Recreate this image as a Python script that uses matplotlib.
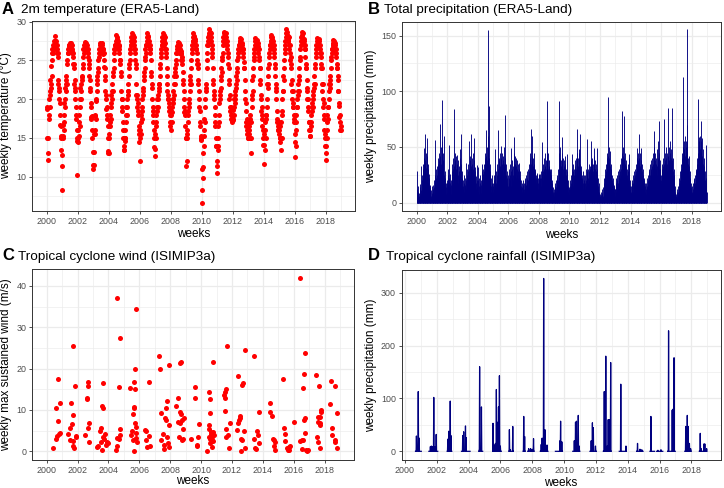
"""Four-panel climate overview: ERA5-Land temperature / precipitation and
ISIMIP3a tropical-cyclone wind / rainfall, weekly values 2000-2018.

Output: out.png (724 x 488 px)
"""
import numpy as np
import matplotlib
matplotlib.use("Agg")
import matplotlib.pyplot as plt
from matplotlib.ticker import MultipleLocator, FormatStrFormatter

# ---- style ----
plt.rcParams.update({
    "font.family": "sans-serif",
    "font.sans-serif": ["Liberation Sans", "DejaVu Sans"],
    "font.size": 8,
    "axes.linewidth": 0.7,
})

C_RED = "#FF0000"
C_NAVY = "#000080"
C_GRID = "#EBEBEB"
C_DARK = "#333333"
C_TICK = "#4D4D4D"

# ---- data: weekly 2m temperature (degC), 52 weeks per year ----
YEARS = list(range(2000, 2019))
temp_2000 = [19, 18.7, 15, 13, 12.2, 15, 17.5, 18, 20, 19, 21, 20.5, 22.5, 22, 21.5, 24.3, 23, 25, 26, 26.5, 26, 27,
             26.5, 27, 27.5, 26.5, 27.5, 28.2, 27, 27.5, 27, 26.5, 27.5, 26, 27, 26.5, 26, 25.5, 22, 22.5, 21.5, 21,
             20, 19.5, 18, 16.7, 16.5, 15.3, 15, 13.5, 11.4, 8.3]
temp_2001 = [12.8, 15, 15.3, 16.7, 17, 18, 16, 19.5, 19, 20, 21.5, 22, 21, 22.5, 23, 22, 24.5, 25, 26, 26.5, 26, 27,
             26.8, 27, 26.5, 27.3, 27, 26.5, 27.2, 26.8, 27, 26.5, 26, 27, 26.2, 25.5, 26, 24.5, 24, 24.5, 22, 21.5,
             22.5, 21, 20, 19, 18, 17.5, 16, 15, 14.6, 10.2]
temp_2002 = [15, 16, 14.5, 15.2, 18, 17, 16.5, 19, 20, 21.5, 21, 22, 20, 22.5, 23, 22.8, 24.5, 24, 25.5, 26.5, 26, 27,
             26.5, 27.4, 26.8, 27, 26.5, 27.2, 26.8, 27, 26.5, 27, 26.3, 25.5, 26.5, 26, 25, 24.5, 24, 23, 22.5, 21,
             21.5, 19, 19.5, 17.7, 17.5, 17.8, 16, 15, 13.2, 11.5]
temp_2003 = [11, 11.5, 13.2, 15.5, 16, 15.5, 17.8, 18, 17.5, 19.8, 20, 21, 22, 22.5, 23, 24, 23.5, 25, 25.5, 26, 26.5,
             26, 27, 26.5, 27.3, 26.8, 27, 26.3, 27.2, 26.5, 27, 26.5, 26, 25.8, 26.5, 26, 25, 24.2, 24, 23, 22.5, 21,
             20, 20.5, 18.7, 19, 17.5, 18, 16.5, 15, 13.3, 13]
temp_2004 = [13, 15, 15.5, 16.5, 17, 18, 17.5, 19, 19.5, 20.5, 20, 21, 22, 21, 23, 23.5, 24, 25, 26, 26.5, 27, 26.5,
             27, 27.5, 28.3, 27, 27.8, 27, 28, 27.5, 27, 26.5, 27.5, 26.8, 27, 26.5, 26, 25, 24.5, 25, 23.5, 23, 21,
             20, 19, 18.5, 20, 17, 16, 15, 14, 13.5]
temp_2005 = [13.4, 15, 14.6, 16, 15, 17, 18, 19, 18, 19, 20, 20.5, 21, 21, 22, 23, 24, 24.5, 25, 26, 26.5, 27, 27,
             27.5, 28, 28.6, 28, 27.5, 28.3, 27.8, 27.5, 28, 27, 26.5, 27.5, 26.5, 26, 25, 24, 24.5, 22, 20.5, 20, 19,
             20.5, 19.5, 18.5, 18, 16, 15.5, 14.5, 16.5]
temp_2006 = [12, 15, 16, 15.5, 17, 18, 17.5, 18.5, 19, 20, 21, 20.5, 21.5, 23, 22.5, 23.5, 24, 25, 25.5, 26.5, 26, 27,
             27, 27.5, 28, 28.5, 27.5, 28, 27.5, 28.2, 27, 27.5, 26.8, 27, 26.5, 26, 26.5, 25, 23, 23.5, 21.5, 22, 20,
             19, 18, 18.5, 17, 16, 15, 13.8, 13.6, 12.7]
temp_2007 = [15.5, 16.5, 15, 18, 17, 19, 18.5, 20, 19, 20, 20.5, 21, 22, 21.5, 22, 23, 24, 24.5, 25.5, 26, 26.5, 27,
             27, 27.5, 28, 28.6, 28, 27.5, 28.3, 27.8, 27, 27.5, 28, 27.2, 26.5, 26, 26.5, 25.5, 24, 23, 22, 21, 20.5,
             20, 20, 19.5, 19, 18.5, 18.5, 18, 17, 16.5]
temp_2008 = [16, 18, 18.5, 17, 19, 18.3, 19.5, 20, 20, 21, 20.5, 22, 23, 22, 23.5, 24, 23, 24.5, 25, 26, 26.5, 26,
             26.8, 27, 27.4, 26.5, 27, 26.8, 27.2, 26.5, 26, 27, 26.5, 25.8, 26.2, 26, 25, 25.5, 24.5, 25, 23.5, 22.5,
             22, 21, 20, 19, 18.3, 18.5, 18, 16.5, 15, 15]
temp_2009 = [11.4, 12, 15, 16, 15.5, 17, 18.5, 18, 19, 19.5, 20, 22, 21, 22.5, 23, 22, 24, 25, 26, 26.5, 27, 27.5,
             27.5, 28, 28.5, 28, 27.5, 28.2, 27.8, 27, 27.5, 27, 26.5, 27, 26.5, 26, 25, 24.5, 24, 24.5, 22.5, 22, 21,
             20, 19, 18.5, 17, 16.5, 15, 14.8, 14.7, 15.2]
temp_2010 = [11, 6.6, 8.3, 9.8, 11.3, 13, 15.2, 14, 16, 17.5, 17, 19, 20, 21, 22, 21.5, 24, 25, 26, 27, 27.5, 27, 28,
             28.5, 29, 28.3, 28, 28.7, 27.5, 28, 28.5, 28, 27.5, 27, 26.5, 26, 25.5, 24, 22, 22.5, 21, 20.5, 20, 19,
             18, 17, 16.5, 15, 14, 13.9, 11.4, 10.5]
temp_2011 = [12, 13.5, 15, 14, 16.5, 18, 17, 19.5, 20, 21, 20.5, 21.5, 23, 22.5, 24, 23.5, 25, 25.5, 26, 27, 27.5, 28,
             28.5, 28.7, 28, 27.5, 28.2, 27.8, 28.5, 27.5, 27, 28, 27.5, 26.5, 27, 26, 25.5, 24.5, 24, 22, 22.5, 20,
             20.5, 19, 18.5, 19, 18, 17.5, 18, 17.5, 17.3, 17]
temp_2012 = [17.5, 18.6, 17.3, 19, 20, 18, 19.5, 20.5, 21, 20, 22, 21.5, 23, 23.5, 24, 22.5, 25, 25.5, 26, 26.5, 26.2,
             27, 27, 27.5, 27.9, 27.2, 27.5, 27, 27.8, 26.8, 27, 26.5, 27.3, 26.5, 26, 26.5, 25.5, 24.8, 24, 24, 22.5,
             21, 20, 19.5, 18.5, 17, 16.5, 17.5, 16, 15.5, 16.5, 15]
temp_2013 = [15, 16, 17, 15.5, 16.5, 15, 17.5, 18, 13, 15, 17, 19, 20, 20.5, 22.5, 21, 23, 24, 25, 25.5, 26.5, 26, 27,
             27.5, 27.9, 27, 27.5, 26.8, 27.2, 27.6, 27, 26.5, 27.3, 26.8, 26, 26.5, 25.5, 25, 24, 24, 22, 22.5, 20,
             20.5, 18.5, 19, 17.5, 18, 16.5, 15, 16, 14.1]
temp_2014 = [11.7, 14.1, 15.5, 13.5, 17, 16, 15, 18, 18, 17.5, 20, 19, 22, 21.5, 22, 24, 23, 24.5, 25.5, 26, 26.5, 27,
             27, 27.5, 28, 28.3, 27.5, 28, 27.8, 27, 27.5, 27, 26.5, 27, 26.5, 26, 25.5, 24, 24.5, 23, 22, 21, 21.5,
             20, 18.5, 17, 17.5, 16, 16, 16.5, 17, 15.5]
temp_2015 = [16, 15, 14.5, 16.5, 15, 17, 15, 13.4, 15, 18, 18.5, 20, 21, 21, 23, 22.5, 24, 25, 26, 26.5, 27, 27.5, 28,
             28.5, 29, 28.3, 28, 28.7, 27.5, 28.2, 27.8, 27.5, 28, 27, 26.5, 27, 26, 25, 25.5, 24, 24.5, 22, 22.5, 21,
             20, 21, 19, 19.5, 19, 17.5, 18, 17]
temp_2016 = [12.5, 14.5, 15.5, 14, 17, 16, 18, 19, 19, 20, 21, 20.5, 22, 21, 23, 22.5, 24, 25, 25.5, 26.5, 27, 27.5,
             28, 28.7, 28, 27.5, 28.3, 27.8, 28.5, 27.5, 27.5, 27, 27.8, 26.5, 27, 26.5, 25.5, 24.5, 24, 24, 22.5, 21,
             21.5, 20, 20, 19, 18.5, 17, 17, 16, 15.2, 16]
temp_2017 = [15.2, 17, 16.5, 18, 17, 19, 18.5, 19.5, 19, 20, 21, 20.5, 22, 21.5, 23, 22, 24, 24.5, 25.5, 26, 26.5, 27,
             27, 27.5, 27.9, 27, 27.5, 27.2, 27.8, 26.8, 27, 27.5, 26.5, 27, 26, 26, 25.5, 24.5, 24, 24, 22, 21, 22,
             20, 19, 18, 19.5, 17.5, 16, 15, 15.5, 14]
temp_2018 = [12.2, 14, 13, 15, 17, 16, 18, 19, 17.5, 19, 21, 20, 22, 21.5, 22.5, 23, 22, 24, 25, 25.5, 26.5, 26, 26.5,
             27, 27.6, 27, 27.3, 26.8, 27.5, 26.5, 27, 26.5, 27.2, 26, 26.5, 26, 25.5, 24.5, 24, 24, 23, 21, 22.5, 21,
             19.1, 19.5, 17.7, 18, 16, 17, 16.5, 16]

# ---- data: weekly total precipitation (mm), 52 weeks per year ----
prec_2000 = [5, 12, 28, 8, 3, 10, 15, 6, 4, 9, 14, 7, 5, 17, 11, 8, 33, 20, 12, 25, 18, 30, 22, 35, 49, 28, 40, 33,
             61.5, 25, 38, 45, 20, 31, 27, 42, 58, 24, 35, 30, 18, 26, 15, 22, 10, 14, 8, 16, 6, 11, 4, 9]
prec_2001 = [7, 15, 10, 16, 5, 12, 8, 20, 14, 25, 56, 18, 10, 22, 15, 30, 12, 20, 33, 25, 40, 28, 35, 22, 45, 38, 71,
             30, 42, 26, 50, 35, 28, 40, 55, 92, 33, 45, 30, 38, 25, 60, 20, 28, 15, 22, 12, 18, 8, 14, 10, 20]
prec_2002 = [18, 25, 12, 30, 20, 15, 51.5, 22, 10, 18, 14, 26, 8, 20, 16, 12, 28, 22, 35, 18, 30, 40, 25, 84, 33, 28,
             45, 38, 22, 30, 42, 26, 35, 20, 43, 30, 25, 38, 18, 28, 33, 22, 40, 30, 48, 25, 62, 35, 20, 28, 15, 22]
prec_2003 = [12, 20, 8, 15, 25, 10, 18, 14, 22, 9, 16, 36, 20, 12, 25, 15, 30, 18, 28, 22, 35, 26, 55, 30, 20, 38, 25,
             42, 30, 33, 62, 28, 40, 35, 22, 45, 30, 26, 38, 58, 25, 32, 20, 28, 15, 24, 12, 18, 10, 20, 34, 14]
prec_2004 = [20, 32, 10, 15, 22, 8, 18, 12, 25, 14, 20, 9, 16, 28, 12, 22, 35, 18, 26, 30, 20, 35, 28, 40, 25, 38, 45,
             65, 30, 42, 35, 50, 28, 38, 60, 155, 45, 33, 87, 40, 28, 35, 20, 25, 15, 22, 10, 18, 12, 25, 8, 15]
prec_2005 = [10, 18, 25, 12, 20, 30, 15, 48, 22, 14, 28, 18, 25, 12, 35, 20, 30, 65, 28, 40, 22, 38, 30, 25, 45, 33,
             51, 28, 40, 35, 22, 45, 30, 38, 25, 42, 33, 28, 50, 35, 40, 79, 30, 25, 35, 20, 28, 15, 22, 18, 12, 25]
prec_2006 = [15, 22, 30, 18, 25, 12, 35, 20, 49, 28, 15, 22, 30, 18, 38, 25, 20, 33, 45, 59, 30, 26, 42, 35, 28, 40,
             22, 33, 30, 25, 38, 20, 28, 35, 22, 30, 36, 18, 25, 15, 22, 28, 12, 20, 15, 10, 18, 8, 14, 20, 12, 16]
prec_2007 = [10, 18, 12, 22, 8, 15, 20, 12, 25, 16, 10, 28, 18, 22, 14, 30, 20, 25, 35, 28, 40, 22, 30, 45, 66, 35, 28,
             38, 42, 25, 60, 33, 28, 40, 30, 45, 25, 35, 28, 20, 30, 25, 18, 22, 27, 15, 20, 25, 12, 18, 22, 26]
prec_2008 = [25, 18, 22, 12, 26, 20, 15, 28, 22, 30, 18, 25, 54, 20, 28, 35, 22, 30, 40, 25, 33, 28, 45, 30, 38, 25,
             42, 50, 35, 91, 30, 45, 28, 38, 30, 25, 33, 30, 22, 28, 30, 20, 25, 15, 20, 12, 18, 8, 14, 10, 6, 12]
prec_2009 = [10, 15, 8, 12, 18, 14, 20, 10, 16, 22, 12, 25, 18, 30, 20, 28, 45, 91, 35, 40, 28, 50, 33, 38, 30, 45,
             59, 35, 28, 40, 30, 25, 38, 33, 22, 30, 42, 28, 35, 25, 20, 30, 44, 22, 28, 18, 15, 20, 10, 14, 8, 12]
prec_2010 = [8, 15, 20, 12, 25, 18, 14, 22, 30, 44, 20, 15, 28, 35, 22, 18, 30, 25, 38, 28, 33, 40, 25, 30, 45, 35,
             66, 28, 40, 33, 30, 48, 25, 38, 45, 62, 30, 35, 22, 28, 33, 20, 25, 15, 22, 18, 28, 12, 20, 15, 25, 18]
prec_2011 = [18, 25, 12, 30, 20, 15, 28, 22, 57, 25, 18, 30, 22, 35, 15, 28, 20, 33, 25, 30, 38, 55, 28, 35, 22, 40,
             30, 25, 35, 28, 42, 49, 30, 25, 38, 22, 30, 28, 20, 35, 25, 49, 30, 18, 22, 15, 12, 18, 8, 10, 5, 8]
prec_2012 = [6, 4, 10, 7, 3, 8, 5, 12, 9, 6, 5, 14, 10, 18, 12, 22, 15, 25, 30, 20, 35, 28, 40, 33, 45, 38, 95, 42,
             30, 50, 35, 28, 40, 33, 25, 46, 30, 22, 35, 28, 20, 25, 15, 22, 18, 12, 16, 10, 14, 8, 12, 6]
prec_2013 = [12, 18, 22, 10, 15, 20, 25, 14, 18, 28, 12, 20, 25, 30, 18, 22, 35, 28, 40, 30, 25, 45, 38, 82, 35, 30,
             42, 50, 78, 33, 40, 28, 35, 45, 30, 25, 38, 28, 33, 22, 30, 25, 35, 20, 28, 44, 22, 18, 40, 15, 20, 12]
prec_2014 = [10, 15, 8, 18, 12, 20, 15, 25, 10, 18, 22, 14, 28, 20, 16, 25, 30, 22, 35, 28, 40, 33, 25, 49, 30, 38,
             45, 62, 35, 28, 40, 33, 30, 45, 25, 38, 49, 30, 28, 35, 22, 30, 25, 18, 22, 15, 20, 12, 18, 10, 15, 8]
prec_2015 = [12, 18, 10, 15, 22, 14, 20, 25, 16, 30, 18, 22, 28, 35, 20, 25, 30, 22, 38, 28, 33, 40, 25, 45, 30, 35,
             28, 42, 50, 64, 30, 38, 45, 28, 35, 40, 30, 25, 48, 33, 40, 55, 35, 73, 30, 45, 25, 38, 20, 30, 18, 25]
prec_2016 = [20, 28, 35, 22, 30, 25, 40, 33, 75, 28, 35, 22, 45, 30, 38, 25, 50, 33, 40, 28, 45, 35, 85, 30, 42, 38,
             50, 28, 35, 45, 30, 55, 40, 33, 48, 30, 38, 85, 35, 28, 40, 22, 30, 18, 25, 12, 15, 8, 10, 5, 8, 4]
prec_2017 = [6, 10, 4, 12, 8, 15, 10, 18, 12, 22, 15, 20, 28, 18, 25, 30, 22, 35, 40, 28, 45, 50, 113, 38, 45, 55,
             40, 48, 35, 60, 42, 50, 38, 45, 55, 70, 156, 50, 40, 35, 30, 42, 25, 33, 20, 28, 15, 22, 12, 18, 8, 14]
prec_2018 = [10, 15, 8, 12, 18, 10, 20, 14, 22, 12, 25, 18, 15, 28, 20, 30, 22, 35, 40, 28, 45, 93, 38, 50, 59, 42,
             55, 35, 48, 60, 40, 55, 73, 45, 58, 38, 42, 30, 48, 35, 28, 40, 25, 33, 20, 28, 15, 22, 12, 18, 52, 10]

# ---- data: weekly max sustained TC wind (m/s) at decimal-year week dates ----
tc_wind_date = [
    2000.41, 2000.60, 2000.62, 2000.68, 2000.71, 2000.71, 2000.80, 2000.84, 2000.86,
    2001.41, 2001.50, 2001.52, 2001.55, 2001.62, 2001.68, 2001.69, 2001.72, 2001.73, 2001.76, 2001.84, 2001.88,
    2001.93,
    2002.48, 2002.59, 2002.64, 2002.68, 2002.70, 2002.70, 2002.72, 2002.76,
    2003.23, 2003.30, 2003.45, 2003.49, 2003.51, 2003.56, 2003.62, 2003.66, 2003.60, 2003.66, 2003.73, 2003.77,
    2003.84, 2003.88, 2003.94,
    2004.52, 2004.56, 2004.58, 2004.58, 2004.69, 2004.73, 2004.69, 2004.73, 2004.78,
    2005.42, 2005.48, 2005.55, 2005.59, 2005.59, 2005.63, 2005.65, 2005.70, 2005.68, 2005.68, 2005.74, 2005.76,
    2005.74, 2005.76, 2005.80, 2005.85, 2005.80,
    2006.34, 2006.45, 2006.45, 2006.51, 2006.62, 2006.60, 2006.66,
    2007.30, 2007.37, 2007.41, 2007.41, 2007.52, 2007.58, 2007.62, 2007.69, 2007.73, 2007.73, 2007.80, 2007.80,
    2007.84, 2007.90, 2007.95, 2007.95,
    2008.38, 2008.48, 2008.53, 2008.59, 2008.62, 2008.65, 2008.70, 2008.65, 2008.70, 2008.74, 2008.76, 2008.80,
    2008.84, 2008.86,
    2009.34, 2009.62, 2009.62, 2009.72, 2009.72, 2009.78, 2009.88,
    2010.37, 2010.48, 2010.48, 2010.52, 2010.56, 2010.56, 2010.52, 2010.56, 2010.58, 2010.62, 2010.66, 2010.68,
    2010.72, 2010.74, 2010.72, 2010.79, 2010.79, 2010.84,
    2011.48, 2011.53, 2011.55, 2011.55, 2011.59, 2011.59, 2011.64, 2011.70, 2011.74, 2011.80, 2011.84,
    2012.34, 2012.39, 2012.41, 2012.45, 2012.49, 2012.51, 2012.58, 2012.61, 2012.62, 2012.67, 2012.73, 2012.77,
    2012.81, 2012.84,
    2013.41, 2013.45, 2013.52, 2013.56, 2013.62, 2013.67, 2013.74, 2013.77,
    2014.45, 2014.49, 2014.59, 2014.64, 2014.70, 2014.70, 2014.76, 2014.80,
    2015.30, 2015.34, 2015.40, 2015.45, 2015.55, 2015.62, 2015.66, 2015.70, 2015.77, 2016.00,
    2016.41, 2016.41, 2016.52, 2016.56, 2016.63, 2016.63, 2016.68, 2016.73, 2016.68, 2016.73, 2016.73, 2016.78,
    2016.84, 2016.90,
    2017.44, 2017.63, 2017.56, 2017.60, 2017.67, 2017.70, 2017.52, 2017.60, 2017.67, 2017.74, 2017.74, 2017.70,
    2018.34, 2018.40, 2018.49, 2018.49, 2018.66, 2018.70, 2018.70, 2018.77, 2018.77,
]
tc_wind_ms = [
    0.7, 10.5, 2.9, 3.7, 7.3, 17.4, 4.2, 11.8, 4.5,
    4.3, 2.7, 5.6, 11.6, 6.6, 8.8, 25.5, 2.5, 1.4, 0.7, 15.9, 3.5,
    3.8,
    3.9, 12.8, 12.6, 5.7, 15.8, 16.8, 6.8, 2.3,
    1.0, 1.4, 4.8, 5.6, 2.3, 11.0, 10.4, 16.6, 0.3, 3.5, 2.9, 4.1,
    1.5, 2.3, 1.9,
    0.3, 3.3, 1.3, 37.2, 15.6, 27.5, 2.9, 5.3, 3.9,
    15.4, 3.9, 4.9, 9.0, 2.7, 0.0, 16.7, 15.1, 10.8, 10.4, 19.8, 34.5,
    6.8, 4.5, 3.3, 2.3, 5.8,
    5.2, 5.0, 2.7, 1.1, 16.7, 3.8, 1.4,
    23.0, 19.9, 9.2, 2.7, 4.2, 1.5, 0.6, 8.1, 10.4, 7.6, 12.2, 3.5,
    2.1, 1.1, 20.8, 6.4,
    11.0, 7.2, 13.0, 3.5, 6.8, 21.4, 21.7, 9.6, 9.0, 7.6, 2.7, 5.3,
    3.0, 8.0,
    3.1, 15.6, 12.8, 1.5, 1.2, 3.5, 6.5,
    0.1, 6.4, 5.3, 14.3, 12.7, 9.3, 3.5, 2.9, 1.9, 4.3, 4.7, 2.7,
    1.1, 21.7, 3.5, 4.7, 2.5, 3.9,
    13.6, 13.0, 14.4, 9.7, 15.0, 5.3, 3.5, 25.4, 3.9, 0.7, 6.9,
    5.2, 18.2, 6.9, 7.6, 8.5, 8.0, 3.1, 0.0, 2.7, 16.0, 16.6, 4.8,
    24.5, 0.7,
    23.1, 3.1, 0.7, 0.5, 4.8, 3.9, 9.4, 2.1,
    11.8, 9.6, 8.6, 2.9, 2.7, 1.3, 0.2, 2.3,
    17.4, 5.6, 4.2, 2.6, 0.7, 0.2, 1.1, 0.3, 1.3, 7.2,
    42.0, 2.6, 2.7, 0.5, 2.7, 15.4, 18.6, 23.9, 7.6, 8.0, 4.5, 0.2,
    0.0, 0.2,
    18.4, 15.9, 8.3, 7.1, 6.8, 6.3, 3.4, 2.3, 0.7, 10.0, 9.6, 8.2,
    11.4, 17.1, 5.7, 3.9, 15.8, 2.7, 2.3, 9.2, 0.9,
]

# ---- data: weekly TC rainfall (mm), one run of consecutive weeks per season ----
tc_rain_start = [2000.67, 2001.51, 2002.66, 2003.56, 2004.64, 2005.52, 2006.53, 2007.43, 2007.72, 2008.51,
                 2009.46, 2009.67, 2010.55, 2011.63, 2012.47, 2013.47, 2014.56, 2015.40, 2015.82, 2016.51,
                 2017.59, 2018.50]
tc_rain_mm = [
    [0, 0, 0, 29, 0, 0, 0, 0, 3, 113, 0, 0, 25, 0, 0, 0, 0, 0, 0, 0],
    [0, 0, 0, 0, 2, 9, 0, 0, 10, 0, 0, 0, 0, 9, 0, 0, 102, 0, 0, 9, 0, 0, 0, 0, 32, 0, 0, 0, 0, 0],
    [0, 0, 23, 0, 0, 38, 0, 0, 0, 0, 95, 0, 30, 0, 0, 0],
    [0, 0, 0, 0, 30, 0, 0, 37, 0, 0, 0, 0, 0, 48, 0, 26, 0, 0, 0, 0, 0, 0, 0, 0, 0, 0, 0, 0, 0],
    [0, 0, 5, 160, 0, 0, 0, 0, 0, 84, 0, 0, 0, 0],
    [0, 53, 0, 0, 0, 8, 12, 0, 0, 15, 0, 0, 117, 0, 0, 0, 55, 0, 0, 84, 0, 0, 143, 0, 0, 10, 0, 0, 0],
    [0, 0, 41, 0, 0, 3, 0, 0, 0, 0, 0, 0, 0, 47, 0, 0],
    [0, 0, 66, 0, 0, 28, 0, 0],
    [0, 0, 0, 5, 0, 0, 0, 0, 0, 5, 0, 0, 0, 0, 4, 0, 0, 0, 0, 24, 0, 0],
    [0, 0, 0, 13, 0, 0, 25, 0, 0, 0, 0, 327, 0, 0, 0, 41, 0, 0, 0, 0, 0, 0, 12, 0, 0, 0],
    [0, 0, 0, 0, 0, 0, 0, 0],
    [0, 0, 0, 0, 20, 0, 57, 0, 0, 0, 18, 0, 0],
    [0, 0, 0, 0, 0, 20, 0, 0, 0, 55, 0, 0, 57, 0, 0, 0, 0, 0, 68, 0, 0, 10, 0, 0],
    [0, 0, 0, 0, 20, 0, 0, 0, 54, 0, 0, 45, 0, 0, 0, 0, 0, 0, 10, 0, 0, 0],
    [0, 0, 0, 113, 0, 0, 0, 0, 180, 0, 0, 0, 0, 10, 0, 0, 60, 0, 0, 0, 60, 0, 0, 0, 168, 0, 0],
    [0, 0, 0, 0, 0, 127, 0, 0, 0, 0, 0, 0, 0, 0, 0, 0, 0, 0, 0, 0, 0, 0, 10, 0],
    [0, 0, 0, 15, 0, 0, 0, 0, 0, 0, 0, 4, 0, 0, 0, 0, 0, 3, 0, 0, 0, 0],
    [0, 0, 0, 66, 0, 0, 0, 0, 0, 0, 0, 0, 0, 0, 0, 0],
    [0, 0, 0, 0, 2, 0, 0, 0, 0, 0, 0, 0, 0, 0, 3, 0, 0, 0, 0, 0, 0],
    [0, 0, 0, 228, 0, 0, 0, 0, 0, 0, 0, 0, 0, 0, 0, 78, 0, 0, 80, 0, 0, 177, 0, 0, 0, 0],
    [0, 0, 0, 47, 0, 0, 0, 0, 68, 0, 0, 47, 0, 0, 0, 15, 0, 0, 0, 5, 0, 0],
    [0, 0, 0, 34, 0, 0, 5, 0, 0, 0, 0, 0, 0, 0, 0, 14, 0, 0, 14, 0, 0, 0, 0, 0, 5, 0],
]

TEMP = [temp_2000, temp_2001, temp_2002, temp_2003, temp_2004, temp_2005, temp_2006, temp_2007, temp_2008,
        temp_2009, temp_2010, temp_2011, temp_2012, temp_2013, temp_2014, temp_2015, temp_2016, temp_2017,
        temp_2018]
PREC = [prec_2000, prec_2001, prec_2002, prec_2003, prec_2004, prec_2005, prec_2006, prec_2007, prec_2008,
        prec_2009, prec_2010, prec_2011, prec_2012, prec_2013, prec_2014, prec_2015, prec_2016, prec_2017,
        prec_2018]

WEEK = 7 / 365.25


def weekly_dates(years):
    """Decimal-year date of each of the 52 weeks in every year."""
    return np.concatenate([y + (7 * np.arange(52) + 3) / 365.25 for y in years])


def style_axes(ax, xlim, ylim, ystep):
    ax.set_xlim(*xlim)
    ax.set_ylim(*ylim)
    ax.xaxis.set_major_locator(MultipleLocator(2))
    ax.xaxis.set_minor_locator(MultipleLocator(1))
    ax.xaxis.set_major_formatter(FormatStrFormatter("%d"))
    ax.yaxis.set_major_locator(MultipleLocator(ystep))
    ax.yaxis.set_minor_locator(MultipleLocator(ystep / 2))
    ax.grid(which="major", color=C_GRID, lw=0.9)
    ax.grid(which="minor", color=C_GRID, lw=0.45)
    ax.set_axisbelow(True)
    ax.tick_params(which="minor", length=0)
    ax.tick_params(which="major", length=2.4, width=0.6, color=C_DARK,
                   labelsize=6.4, labelcolor=C_TICK, pad=1.6)
    for sp in ax.spines.values():
        sp.set_color(C_DARK)
        sp.set_linewidth(0.7)


def main():
    fig = plt.figure(figsize=(7.24, 4.88), dpi=100)
    W, H = 724, 488

    def add_ax(l, t, r, b):
        return fig.add_axes([l / W, 1 - b / H, (r - l) / W, (b - t) / H])

    axA = add_ax(32, 21, 355, 211)
    axB = add_ax(402, 21.5, 720.7, 211)
    axC = add_ax(32, 269, 354, 460)
    axD = add_ax(401.5, 270, 720.5, 460)

    x_week = weekly_dates(YEARS)

    # A: temperature scatter
    axA.scatter(x_week, np.concatenate(TEMP), s=13, c=C_RED, linewidths=0, zorder=3)
    style_axes(axA, (1999.05, 2019.9), (5.57, 30.09), 5)
    axA.set_ylabel("weekly temperature (°C)", fontsize=8.5)

    # B: precipitation columns (one vertical stroke per week)
    axB.vlines(x_week, 0, np.concatenate(PREC), color=C_NAVY, lw=0.65, zorder=3)
    style_axes(axB, (1999.05, 2019.9), (-7.5, 162.6), 50)
    axB.set_ylabel("weekly precipitation (mm)", fontsize=8.5)

    # C: TC wind scatter
    axC.scatter(tc_wind_date, tc_wind_ms, s=13, c=C_RED, linewidths=0, zorder=3)
    style_axes(axC, (1999.05, 2019.9), (-2.1, 44.1), 10)
    axC.set_ylabel("weekly max sustained wind (m/s)", fontsize=8.5)

    # D: TC rainfall line, broken between seasons
    xs, ys = [], []
    for start, vals in zip(tc_rain_start, tc_rain_mm):
        xs.append(start + WEEK * np.arange(len(vals)))
        ys.append(np.asarray(vals, dtype=float))
        xs.append([np.nan])
        ys.append([np.nan])
    axD.plot(np.concatenate(xs), np.concatenate(ys), color=C_NAVY, lw=0.9, zorder=3)
    style_axes(axD, (1999.79, 2019.83), (-16.4, 343), 100)
    axD.set_ylabel("weekly precipitation (mm)", fontsize=8.5)

    # axis-title placement (axes fractions)
    for ax, ylx, xly in ((axA, -0.063, -0.091), (axB, -0.078, -0.096),
                         (axC, -0.063, -0.080), (axD, -0.077, -0.089)):
        ax.set_xlabel("weeks", fontsize=8.5)
        ax.yaxis.set_label_coords(ylx, 0.5)
        ax.xaxis.set_label_coords(0.5, xly)
        ax.xaxis.label.set_va("top")

    # panel tags and titles
    for tag, tx, title, ttx, by in (("A", 2, "2m temperature (ERA5-Land)", 21, 13.5),
                                    ("B", 368, "Total precipitation (ERA5-Land)", 384, 13.5),
                                    ("C", 2.5, "Tropical cyclone wind (ISIMIP3a)", 17.5, 260.3),
                                    ("D", 368, "Tropical cyclone rainfall (ISIMIP3a)", 385.5, 260.3)):
        fig.text(tx / W, 1 - by / H, tag, fontsize=12, fontweight="bold", ha="left", va="baseline")
        fig.text(ttx / W, 1 - by / H, title, fontsize=9.7, ha="left", va="baseline")

    fig.savefig("out.png", dpi=100)
    plt.close(fig)


if __name__ == "__main__":
    main()
